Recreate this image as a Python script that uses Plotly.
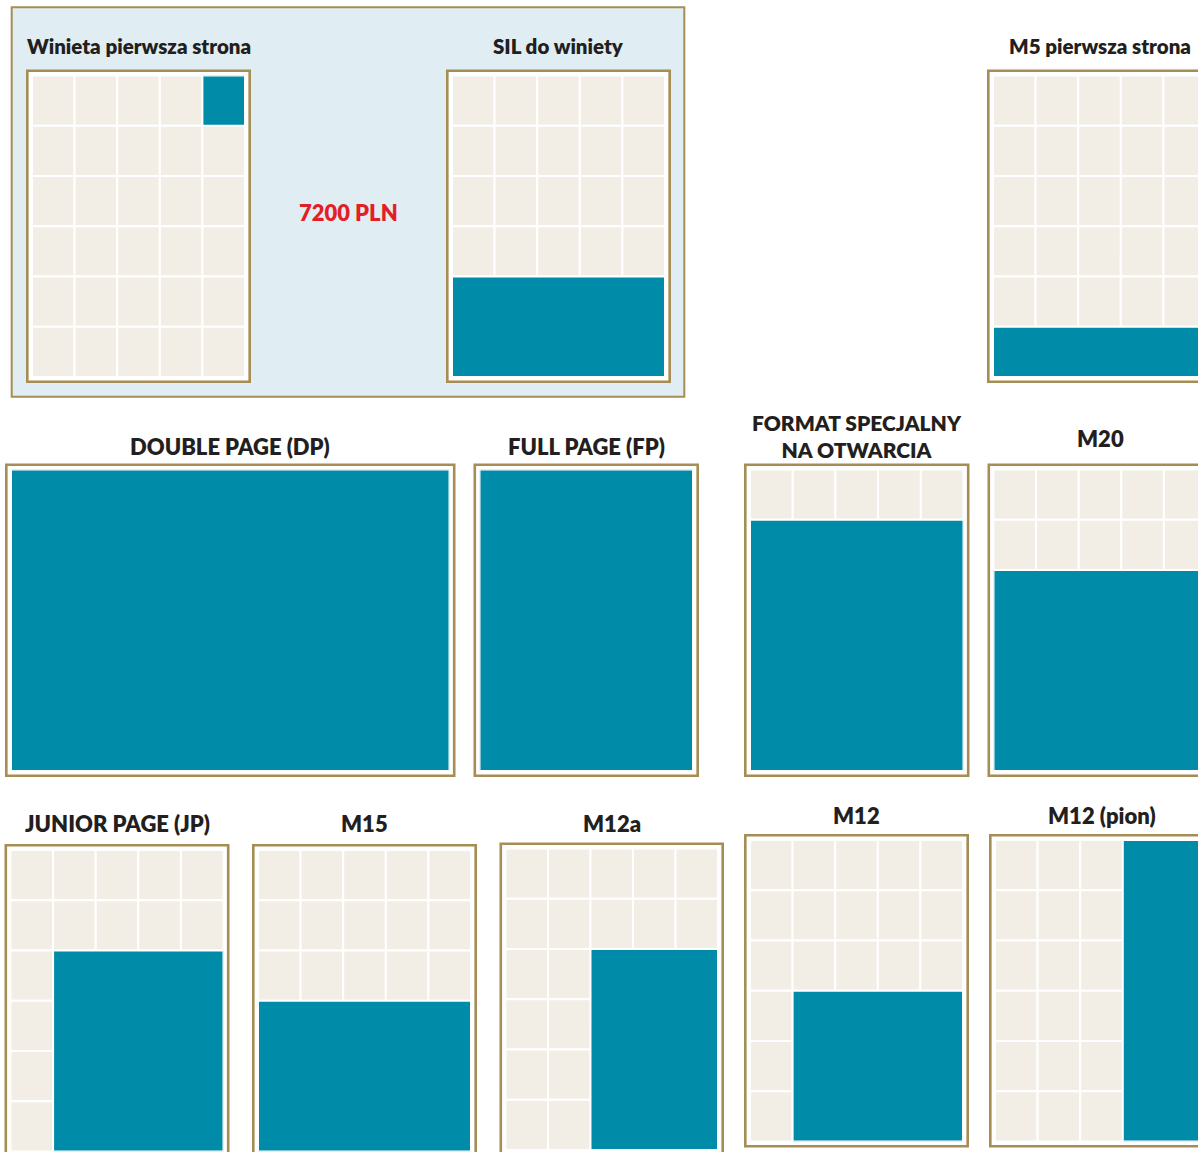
import plotly.graph_objects as go

W, H = 1198, 1152

# ---------------- data ----------------
panel_titles = ["Winieta pierwsza strona", "SIL do winiety", "M5 pierwsza strona",
                "DOUBLE PAGE (DP)", "FULL PAGE (FP)", "FORMAT SPECJALNY<br>NA OTWARCIA", "M20",
                "JUNIOR PAGE (JP)", "M15", "M12a", "M12", "M12 (pion)"]
grid_cols = [5, 5, 5, 10, 5, 5, 5, 5, 5, 5, 5, 5]
grid_rows = [6, 6, 6, 6, 6, 6, 6, 6, 6, 6, 6, 6]
ad_col_start = [4, 0, 0, 0, 0, 0, 0, 1, 0, 2, 1, 3]
ad_row_start = [0, 4, 5, 0, 0, 1, 2, 2, 3, 2, 3, 0]
ad_col_span = [1, 5, 5, 10, 5, 5, 5, 4, 5, 3, 4, 2]
ad_row_span = [1, 2, 1, 6, 6, 5, 4, 4, 3, 4, 3, 6]
price_label = "7200 PLN"

# ---------------- layout (pixel positions of the frames) ----------------
frame_left = [26, 446, 987, 5, 473.5, 744, 987.5, 4.5, 252, 499.5, 744, 989]
frame_top = [69.5, 69.5, 69.5, 463.5, 463.5, 463.5, 463.5, 844, 844, 842.5, 834, 834]
frame_width = [225, 225, 225, 450.5, 225.5, 225.5, 225, 225, 225, 224.5, 225, 225]
frame_height = [313.5] * 12
title_y = [46, 46, 46, 446, 446, 436, 438, 823, 823, 823, 815, 815]
title_size = [20.5, 20.5, 20.5, 22, 22, 21, 22, 22, 22, 22, 22, 22]
inset = 6
promo_box = dict(x0=11.7, y0=7.3, x1=684.3, y1=396.7)
price_pos = (348, 212)

# ---------------- styles ----------------
BLUE = "#008ba9"
BEIGE = "#f2eee6"
GOLD = "#a68d53"
LIGHT = "#e0eef3"
RED = "#e41e26"
TEXT = "#231f20"
FONT = "Lato"
WEIGHT = 800

fig = go.Figure()
shapes = []
annotations = []

# base canvas axis (pixels)
fig.add_trace(go.Scatter(x=[], y=[], xaxis="x", yaxis="y", showlegend=False, hoverinfo="skip"))
layout_axes = dict(
    xaxis=dict(range=[0, W], domain=[0, 1], visible=False, fixedrange=True),
    yaxis=dict(range=[H, 0], domain=[0, 1], visible=False, fixedrange=True),
)

# promo background box
shapes.append(dict(type="rect", xref="x", yref="y", **promo_box,
                   fillcolor=LIGHT, line=dict(color=GOLD, width=2), layer="below"))

for i, title in enumerate(panel_titles):
    L = frame_left[i]
    T = frame_top[i]
    R = L + frame_width[i]
    B = T + frame_height[i]
    lw = 2.6
    shapes.append(dict(type="rect", xref="x", yref="y",
                       x0=L + lw / 2, y0=T + lw / 2, x1=R - lw / 2, y1=B - lw / 2,
                       fillcolor="white", line=dict(color=GOLD, width=lw)))
    annotations.append(dict(xref="x", yref="y", x=(L + R) / 2, y=title_y[i],
                            text=title, showarrow=False,
                            xanchor="center", yanchor="middle", align="center",
                            font=dict(family=FONT, size=title_size[i], color=TEXT,
                                      weight=WEIGHT)))

    # grid subplot in grid units
    gx0, gx1 = L + inset, R - inset
    gy0, gy1 = T + inset, B - inset
    cx1 = min(gx1, W)
    cy1 = min(gy1, H)
    nc, nr = grid_cols[i], grid_rows[i]
    xr = nc * (cx1 - gx0) / (gx1 - gx0)
    yr = nr * (cy1 - gy0) / (gy1 - gy0)
    k = i + 2
    xa, ya = f"x{k}", f"y{k}"
    fig.add_trace(go.Scatter(x=[], y=[], xaxis=xa, yaxis=ya, showlegend=False, hoverinfo="skip"))
    layout_axes[f"xaxis{k}"] = dict(range=[0, xr], domain=[gx0 / W, cx1 / W], anchor=ya,
                                    visible=False, fixedrange=True)
    layout_axes[f"yaxis{k}"] = dict(range=[yr, 0], domain=[1 - cy1 / H, 1 - gy0 / H], anchor=xa,
                                    visible=False, fixedrange=True)
    c0, r0 = ad_col_start[i], ad_row_start[i]
    cs, rs = ad_col_span[i], ad_row_span[i]
    for r in range(nr):
        for c in range(nc):
            if c0 <= c < c0 + cs and r0 <= r < r0 + rs:
                continue
            shapes.append(dict(type="rect", xref=xa, yref=ya, x0=c, x1=c + 1, y0=r, y1=r + 1,
                               fillcolor=BEIGE, line=dict(color="white", width=2)))
    shapes.append(dict(type="rect", xref=xa, yref=ya, x0=c0, x1=c0 + cs, y0=r0, y1=r0 + rs,
                       fillcolor=BLUE, line=dict(color="white", width=2)))

annotations.append(dict(xref="x", yref="y", x=price_pos[0], y=price_pos[1],
                        text=price_label, showarrow=False,
                        xanchor="center", yanchor="middle",
                        font=dict(family=FONT, size=22, color=RED, weight=WEIGHT)))

fig.update_layout(width=W, height=H, margin=dict(l=0, r=0, t=0, b=0),
                  paper_bgcolor="white", plot_bgcolor="rgba(0,0,0,0)",
                  shapes=shapes, annotations=annotations, showlegend=False,
                  **layout_axes)

fig.write_html("out.html", config={"displayModeBar": False},
               post_script="document.body.style.margin='0';document.body.style.overflow='hidden';")
